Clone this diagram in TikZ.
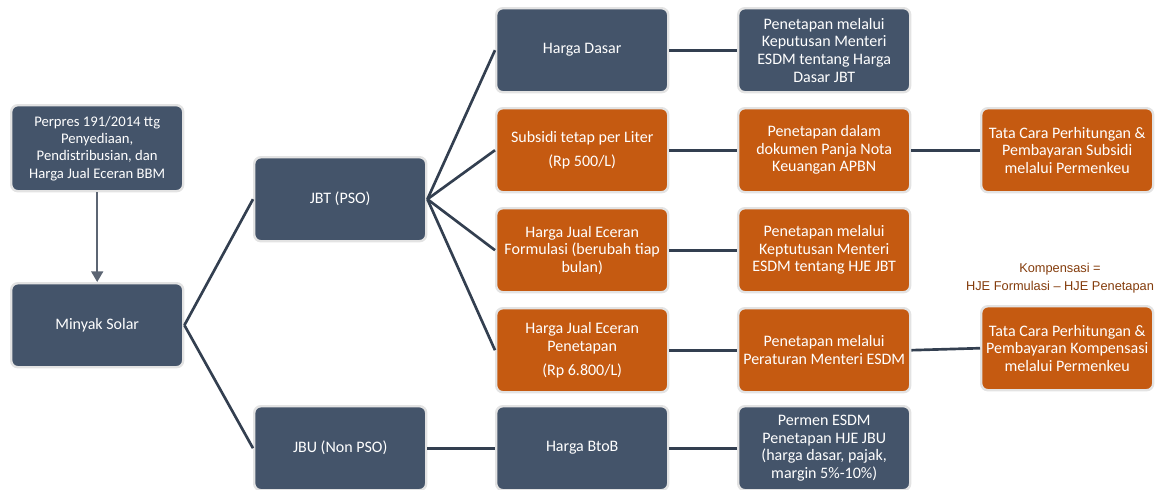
\documentclass[tikz,border=0pt]{standalone}
\usepackage{fontspec}
\setmainfont{Carlito}
\newfontfamily\labelfont{Liberation Sans}
\usetikzlibrary{arrows.meta}
\definecolor{slate}{HTML}{44546A}
\definecolor{rust}{HTML}{C55A11}
\definecolor{rim}{HTML}{E3E3E3}
\definecolor{wire}{HTML}{333F50}
\definecolor{note}{HTML}{843C0C}
\tikzset{
  box/.style={draw=rim, line width=1.8pt, rounded corners=5pt, text=white, align=center,
    minimum width=172*0.75pt, minimum height=84*0.75pt, inner sep=2pt,
    font=\fontsize{12}{13.2}\selectfont, anchor=north west},
  bluebox/.style={box, fill=slate},
  orbox/.style={box, fill=rust},
  wirel/.style={draw=wire, line width=2pt},
}
\begin{document}
\begin{tikzpicture}[x=0.75pt,y=-0.75pt]
\useasboundingbox (0,0) rectangle (1163,489);
% column 1
\node[bluebox, minimum height=86*0.75pt, font=\fontsize{11}{13}\selectfont] (perpres) at (10,104) {Perpres 191/2014 ttg\\Penyediaan,\\Pendistribusian, dan\\Harga Jual Eceran BBM};
\node[bluebox] (solar) at (10,282) {Minyak Solar};
% column 2
\node[bluebox] (jbt) at (253,156) {JBT (PSO)};
\node[bluebox] (jbu) at (253,405) {JBU (Non PSO)};
% column 3
\node[bluebox] (dasar) at (495,7) {Harga Dasar};
\node[orbox] (subsidi) at (495,107) {Subsidi tetap per Liter\\[5pt](Rp 500/L)};
\node[orbox] (hjef) at (495,207) {Harga Jual Eceran\\Formulasi (berubah tiap\\bulan)};
\node[orbox] (hjep) at (495,307) {Harga Jual Eceran\\Penetapan\\[5pt](Rp 6.800/L)};
\node[bluebox] (btob) at (495,405) {Harga BtoB};
% column 4
\node[bluebox] (kepmen) at (737,7) {Penetapan melalui\\Keputusan Menteri\\ESDM tentang Harga\\Dasar JBT};
\node[orbox] (panja) at (737,107) {Penetapan dalam\\dokumen Panja Nota\\Keuangan APBN};
\node[orbox] (hjejbt) at (737,207) {Penetapan melalui\\Keptutusan Menteri\\ESDM tentang HJE JBT};
\node[orbox] (permen) at (737,307) {Penetapan melalui\\Peraturan Menteri ESDM};
\node[bluebox] (jbuhje) at (737,405) {Permen ESDM\\Penetapan HJE JBU\\(harga dasar, pajak,\\margin 5\%-10\%)};
% column 5
\node[orbox] (tcsub) at (980,107) {Tata Cara Perhitungan \&\\Pembayaran Subsidi\\melalui Permenkeu};
\node[orbox] (tckomp) at (980,305) {Tata Cara Perhitungan \&\\Pembayaran Kompensasi\\melalui Permenkeu};
\node[text=note, align=center, font=\labelfont\fontsize{9.6}{13.5}\selectfont] (komp) at (1060,278) {Kompensasi =\\HJE Formulasi – HJE Penetapan};
% connectors
\draw[draw=wire!80!white, line width=1.3pt, -{Triangle[length=8pt,width=9pt]}] (perpres.south) -- (solar.north);
\draw[wirel] (solar.east) -- (jbt.west);
\draw[wirel] (solar.east) -- (jbu.west);
\draw[wirel] (jbt.east) -- (dasar.west);
\draw[wirel] (jbt.east) -- (subsidi.west);
\draw[wirel] (jbt.east) -- (hjef.west);
\draw[wirel] (jbt.east) -- (hjep.west);
\draw[wirel] (jbu.east) -- (btob.west);
\draw[wirel] (dasar.east) -- (kepmen.west);
\draw[wirel] (subsidi.east) -- (panja.west);
\draw[wirel] (hjef.east) -- (hjejbt.west);
\draw[wirel] (hjep.east) -- (permen.west);
\draw[wirel] (btob.east) -- (jbuhje.west);
\draw[wirel] (panja.east) -- (tcsub.west);
\draw[wirel] (permen.east) -- (tckomp.west);
\end{tikzpicture}
\end{document}
